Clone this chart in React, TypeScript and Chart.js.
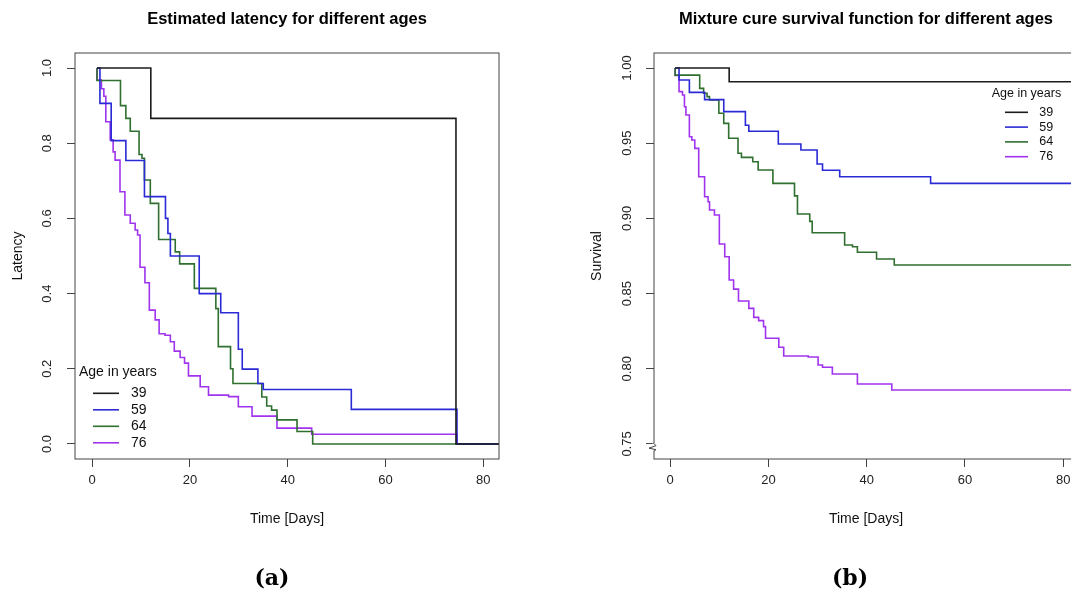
import React, { useEffect, useRef } from 'react';
import { Chart, registerables } from 'chart.js';

Chart.register(...registerables);

// ---------- data ----------
const ageLabels = ['39', '59', '64', '76'];

const timeTicks = [0, 20, 40, 60, 80];
const timeTickLabels = ['0', '20', '40', '60', '80'];
const latencyTicks = [0, 0.2, 0.4, 0.6, 0.8, 1.0];
const latencyTickLabels = ['0.0', '0.2', '0.4', '0.6', '0.8', '1.0'];
const survivalTicks = [0.75, 0.8, 0.85, 0.9, 0.95, 1.0];
const survivalTickLabels = ['0.75', '0.80', '0.85', '0.90', '0.95', '1.00'];

// Panel (a): estimated latency
const latTime39 = [1, 12, 74.4, 84];
const latValue39 = [1, 0.866, 0, 0];
const latTime59 = [1, 1.6, 3.9, 6.9, 10.7, 15.0, 15.5, 16, 21.9, 26.3, 29.9, 30.7, 33.9, 35, 53, 74.6, 84];
const latValue59 = [1, 0.906, 0.807, 0.754, 0.658, 0.6, 0.56, 0.5, 0.4, 0.349, 0.252, 0.199, 0.161, 0.145, 0.092, 0, 0];
const latTime64 = [1, 1, 5.8, 6.9, 7.8, 9.6, 10.2, 10.7, 11.9, 13.6, 17, 17.9, 20.9, 25.3, 25.8, 28.3, 28.8, 34.7, 35.7, 36.7, 37.8, 41.9, 45.1, 84];
const latValue64 = [1, 0.967, 0.9, 0.866, 0.832, 0.77, 0.76, 0.702, 0.64, 0.544, 0.511, 0.479, 0.414, 0.36, 0.259, 0.2, 0.161, 0.125, 0.101, 0.09, 0.064, 0.033, 0, 0];
const latTime76 = [1, 1, 1.9, 2.4, 2.8, 3.7, 4.3, 4.7, 5.7, 6.7, 7.8, 8.8, 9.3, 9.8, 10.8, 11.7, 12.9, 13.7, 14.9, 16, 16.8, 18, 18.9, 19.7, 22.1, 23.8, 27.9, 29.9, 32.7, 37.8, 44.9, 74.6, 84];
const latValue76 = [1, 0.968, 0.945, 0.925, 0.857, 0.809, 0.777, 0.755, 0.671, 0.609, 0.587, 0.569, 0.556, 0.47, 0.429, 0.356, 0.33, 0.293, 0.289, 0.272, 0.247, 0.23, 0.215, 0.181, 0.152, 0.13, 0.126, 0.099, 0.074, 0.042, 0.026, 0, 0];

// Panel (b): mixture cure survival
const surTime39 = [1, 12, 84];
const surValue39 = [1, 0.9909, 0.9909];
const surTime59 = [1, 1.8, 3.9, 7.0, 10.9, 15.3, 16, 22, 26.6, 29.9, 31, 34.5, 53, 84];
const surValue59 = [1, 0.992, 0.9838, 0.979, 0.971, 0.962, 0.958, 0.9495, 0.9455, 0.9362, 0.932, 0.9277, 0.9233, 0.9233];
const surTime64 = [1, 1, 6, 6.8, 7.5, 8, 9.9, 10.9, 11.9, 13.8, 14.5, 16.8, 17.9, 20.9, 25.3, 25.9, 28.4, 28.9, 35.5, 37.1, 38.1, 42, 45.6, 84];
const surValue64 = [1, 0.9953, 0.9865, 0.9832, 0.981, 0.9787, 0.9699, 0.9632, 0.9533, 0.9433, 0.9406, 0.9377, 0.9322, 0.9233, 0.915, 0.9029, 0.898, 0.8905, 0.8823, 0.8812, 0.8775, 0.873, 0.869, 0.869];
const surTime76 = [1, 1, 1.8, 2.5, 2.9, 3.2, 3.9, 4.4, 5, 5.8, 7, 7.7, 8, 9, 10, 11.1, 12, 12.9, 13.9, 16, 17, 18, 19, 19.4, 22.1, 23.1, 28.1, 30.1, 31, 33, 38.1, 45.1, 84];
const surValue76 = [1, 0.995, 0.9843, 0.9821, 0.9743, 0.9688, 0.9543, 0.9521, 0.9466, 0.9277, 0.9144, 0.9111, 0.9056, 0.9023, 0.883, 0.8745, 0.859, 0.853, 0.8451, 0.8402, 0.8342, 0.832, 0.828, 0.8203, 0.8143, 0.8085, 0.8078, 0.8025, 0.801, 0.7965, 0.7899, 0.7859, 0.7859];

// ---------- styles ----------
const seriesColors = ['#1c1c1c', '#2a2ad6', '#2f6f2f', '#a033ee'];
const fontFamily = "'Liberation Sans', Arial, Helvetica, sans-serif";
const axisColor = '#444';
const CANVAS_H = 595;

const boxPlugin = {
  id: 'rBox',
  afterDraw(chart: any, _args: any, opts: any) {
    const { ctx, chartArea: a } = chart;
    ctx.save();
    ctx.strokeStyle = axisColor;
    ctx.lineWidth = 1;
    ctx.strokeRect(a.left, a.top, a.right - a.left, a.bottom - a.top);
    if (opts && opts.breakAt != null) {
      const y0 = chart.scales.y.getPixelForValue(opts.breakAt);
      const x = a.left;
      ctx.fillStyle = '#fff';
      ctx.fillRect(x - 2, y0 - 3, 4, 7);
      ctx.beginPath();
      ctx.moveTo(x, y0 - 3);
      ctx.lineTo(x + 2, y0 - 1);
      ctx.lineTo(x - 5, y0 + 1.5);
      ctx.lineTo(x + 2, y0 + 3);
      ctx.lineTo(x, y0 + 4);
      ctx.stroke();
    }
    ctx.restore();
  },
};

const legendPlugin = {
  id: 'rLegend',
  afterDraw(chart: any, _args: any, o: any) {
    const ctx = chart.ctx;
    ctx.save();
    ctx.font = `${o.fontSize}px ${fontFamily}`;
    ctx.fillStyle = '#111';
    ctx.textBaseline = 'middle';
    ctx.textAlign = 'left';
    ctx.fillText(o.title, o.titleX, o.titleY);
    chart.data.datasets.forEach((ds: any, i: number) => {
      const y = o.firstY + i * o.rowGap;
      ctx.strokeStyle = ds.borderColor;
      ctx.lineWidth = 1.6;
      ctx.beginPath();
      ctx.moveTo(o.lineX0, y);
      ctx.lineTo(o.lineX1, y);
      ctx.stroke();
      ctx.fillText(ds.label, o.textX, y);
    });
    ctx.restore();
  },
};

type Panel = {
  left: number;
  width: number;
  padRight: number;
  yAxisWidth: number;
  title: string;
  titleSize: number;
  yTitle: string;
  yTitlePad: number;
  xMin: number;
  xMax: number;
  yMin: number;
  yMax: number;
  yTicks: number[];
  yTickLabels: string[];
  yTickPad: number;
  times: number[][];
  values: number[][];
  legend: any;
  breakAt: number | null;
};

function buildConfig(p: Panel): any {
  const titleLH = p.titleSize * 1.2;
  const titleTop = 19 - titleLH / 2;
  return {
    type: 'line',
    data: {
      datasets: p.times.map((t, i) => ({
        label: ageLabels[i],
        data: t.map((x, j) => ({ x, y: p.values[i][j] })),
        borderColor: seriesColors[i],
        backgroundColor: seriesColors[i],
        borderWidth: 1.6,
        pointRadius: 0,
        stepped: 'before',
        fill: false,
        tension: 0,
      })),
    },
    options: {
      animation: false,
      responsive: false,
      maintainAspectRatio: false,
      events: [],
      layout: { padding: { left: 0, top: 0, right: p.padRight, bottom: 0 } },
      plugins: {
        legend: { display: false },
        tooltip: { enabled: false },
        title: {
          display: true,
          text: p.title,
          fullSize: false,
          color: '#000',
          font: { family: fontFamily, size: p.titleSize, weight: 'bold' },
          padding: { top: titleTop, bottom: 53 - titleTop - titleLH },
        },
        rLegend: p.legend,
        rBox: { breakAt: p.breakAt },
      },
      scales: {
        x: {
          type: 'linear',
          min: p.xMin,
          max: p.xMax,
          afterBuildTicks: (s: any) => {
            s.ticks = timeTicks.map((v) => ({ value: v }));
          },
          afterFit: (s: any) => {
            s.height = 136;
          },
          ticks: {
            autoSkip: false,
            maxRotation: 0,
            minRotation: 0,
            padding: 6,
            color: '#222',
            font: { family: fontFamily, size: 13 },
            callback: (_v: any, i: number) => timeTickLabels[i],
          },
          grid: { drawOnChartArea: false, drawTicks: true, tickLength: 8, color: axisColor, lineWidth: 1 },
          border: { display: false },
          title: {
            display: true,
            text: 'Time [Days]',
            color: '#111',
            font: { family: fontFamily, size: 14 },
            padding: { top: 0, bottom: 67.6 },
          },
        },
        y: {
          type: 'linear',
          min: p.yMin,
          max: p.yMax,
          afterBuildTicks: (s: any) => {
            s.ticks = p.yTicks.map((v) => ({ value: v }));
          },
          afterFit: (s: any) => {
            s.width = p.yAxisWidth;
          },
          ticks: {
            autoSkip: false,
            minRotation: 90,
            maxRotation: 90,
            crossAlign: 'center',
            padding: p.yTickPad,
            color: '#222',
            font: { family: fontFamily, size: 13 },
            callback: (_v: any, i: number) => p.yTickLabels[i],
          },
          grid: { drawOnChartArea: false, drawTicks: true, tickLength: 8, color: axisColor, lineWidth: 1 },
          border: { display: false },
          title: {
            display: true,
            text: p.yTitle,
            color: '#111',
            font: { family: fontFamily, size: 14 },
            padding: { top: p.yTitlePad, bottom: 0 },
          },
        },
      },
    },
    plugins: [boxPlugin, legendPlugin],
  };
}

const panelA: Panel = {
  left: 0,
  width: 535,
  padRight: 36,
  yAxisWidth: 75,
  title: 'Estimated latency for different ages',
  titleSize: 16.5,
  yTitle: 'Latency',
  yTitlePad: 9.6,
  xMin: -3.5,
  xMax: 83.2,
  yMin: -0.04,
  yMax: 1.04,
  yTicks: latencyTicks,
  yTickLabels: latencyTickLabels,
  yTickPad: 11,
  times: [latTime39, latTime59, latTime64, latTime76],
  values: [latValue39, latValue59, latValue64, latValue76],
  legend: {
    title: 'Age in years',
    fontSize: 14,
    titleX: 79,
    titleY: 371.7,
    lineX0: 93,
    lineX1: 119,
    textX: 131,
    firstY: 393.3,
    rowGap: 16.5,
  },
  breakAt: null,
};

const panelB: Panel = {
  left: 578,
  width: 560,
  padRight: 60,
  yAxisWidth: 76,
  title: 'Mixture cure survival function for different ages',
  titleSize: 16.5,
  yTitle: 'Survival',
  yTitlePad: 10.6,
  xMin: -3.3,
  xMax: 83.0,
  yMin: 0.74,
  yMax: 1.01,
  yTicks: survivalTicks,
  yTickLabels: survivalTickLabels,
  yTickPad: 6.4,
  times: [surTime39, surTime59, surTime64, surTime76],
  values: [surValue39, surValue59, surValue64, surValue76],
  legend: {
    title: 'Age in years',
    fontSize: 12.5,
    titleX: 413.7,
    titleY: 93.3,
    lineX0: 427,
    lineX1: 450,
    textX: 461.3,
    firstY: 112.3,
    rowGap: 14.8,
  },
  breakAt: 0.7482,
};

function StepChart({ panel }: { panel: Panel }) {
  const ref = useRef<HTMLCanvasElement>(null);
  useEffect(() => {
    if (!ref.current) return;
    const chart = new Chart(ref.current, buildConfig(panel));
    return () => chart.destroy();
  }, [panel]);
  return (
    <canvas
      ref={ref}
      width={panel.width}
      height={CANVAS_H}
      style={{ position: 'absolute', left: panel.left, top: 0, width: panel.width, height: CANVAS_H }}
    />
  );
}

const captionStyle: React.CSSProperties = {
  position: 'absolute',
  top: 564,
  width: 100,
  textAlign: 'center',
  fontFamily: "'DejaVu Serif', serif",
  fontWeight: 'bold',
  fontSize: 22,
  lineHeight: '26px',
  color: '#000',
};

export default function App() {
  return (
    <div
      style={{
        position: 'fixed',
        left: 0,
        top: 0,
        width: 1071,
        height: 595,
        overflow: 'hidden',
        background: '#fff',
      }}
    >
      <StepChart panel={panelA} />
      <StepChart panel={panelB} />
      <div style={{ ...captionStyle, left: 222 }}>(a)</div>
      <div style={{ ...captionStyle, left: 800 }}>(b)</div>
    </div>
  );
}
